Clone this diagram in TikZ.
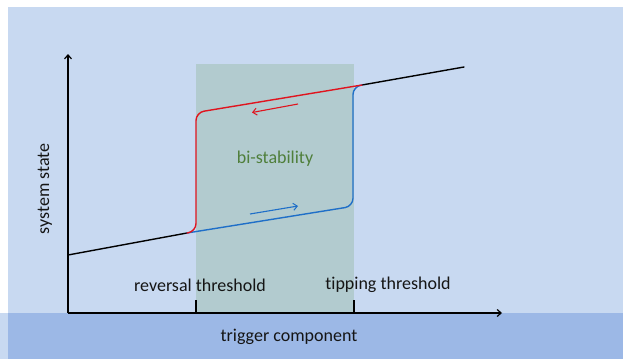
\documentclass[tikz,border=0pt]{standalone}
\usepackage{fontspec}
\setmainfont[Ligatures={NoCommon}]{Carlito}
\usetikzlibrary{arrows.meta}
\definecolor{bglight}{HTML}{C8D9F1}
\definecolor{bgdark}{HTML}{9CB8E6}
\definecolor{zone}{HTML}{B2CBCF}
\definecolor{redc}{HTML}{E0141E}
\definecolor{bluec}{HTML}{1F6FC8}
\definecolor{greentext}{HTML}{4F7F3B}
\definecolor{textc}{HTML}{151515}
\tikzset{
  axis/.style={line width=1.4pt, draw=black, -{Straight Barb[length=4pt,width=7pt,line width=1.2pt]}},
  curve/.style={line width=1.4pt, line join=round, line cap=round},
  dirarrow/.style={line width=1.1pt, -{Straight Barb[length=4pt,width=7pt,line width=1pt]}},
  lbl/.style={font=\fontsize{18}{20}\selectfont, text=textc, inner sep=0pt},
}
\begin{document}
\begin{tikzpicture}[x=1pt,y=-1pt]
\useasboundingbox (0,0) rectangle (623,359);
% backgrounds
\fill[white] (0,0) rectangle (623,359);
\fill[bglight] (8,7) rectangle (623,313);
\fill[bglight] (0,313) rectangle (8,359);
\fill[bgdark] (8,313) rectangle (623,359);
% bistability zone
\fill[zone] (196,64) rectangle (354,313);
% coordinates
\coordinate (O) at (68,313);
\coordinate (ytop) at (68,54);
\coordinate (xend) at (502,313);
\coordinate (lowstart) at (68,255);
\coordinate (split) at (187,233);
\coordinate (join) at (362,85);
\coordinate (highend) at (464,67);
\coordinate (t1) at (196,313);
\coordinate (t1top) at (196,300);
\coordinate (t2) at (354,313);
\coordinate (t2top) at (354,300);
% axes
\draw[axis] (O) -- (ytop);
\draw[axis] (O) -- (xend);
\draw[line width=1.4pt] (t1) -- (t1top);
\draw[line width=1.4pt] (t2) -- (t2top);
% black branches
\draw[curve, black] (lowstart) -- (split);
\draw[curve, black] (join) -- (highend);
% blue path
\draw[curve, bluec, rounded corners=8pt] (split) -- (353,206.3) -- (353,86.5) -- (join);
% red path
\draw[curve, redc, rounded corners=8pt] (split) -- (196,231.5) -- (196,112.5) -- (join);
% direction arrows
\coordinate (ra1) at (298,104);
\coordinate (ra2) at (252,112.5);
\coordinate (ba1) at (250,214);
\coordinate (ba2) at (298,206);
\draw[dirarrow, redc] (ra1) -- (ra2);
\draw[dirarrow, bluec] (ba1) -- (ba2);
% labels
\node[lbl, text=greentext] (bis) at (275,159) {bi-stability};
\node[lbl] (rev) at (200,285) {reversal threshold};
\node[lbl] (tip) at (388,285) {tipping threshold};
\node[lbl] (trig) at (289,337) {trigger component};
\node[lbl, rotate=90] (sys) at (45,189) {system state};
\end{tikzpicture}
\end{document}
